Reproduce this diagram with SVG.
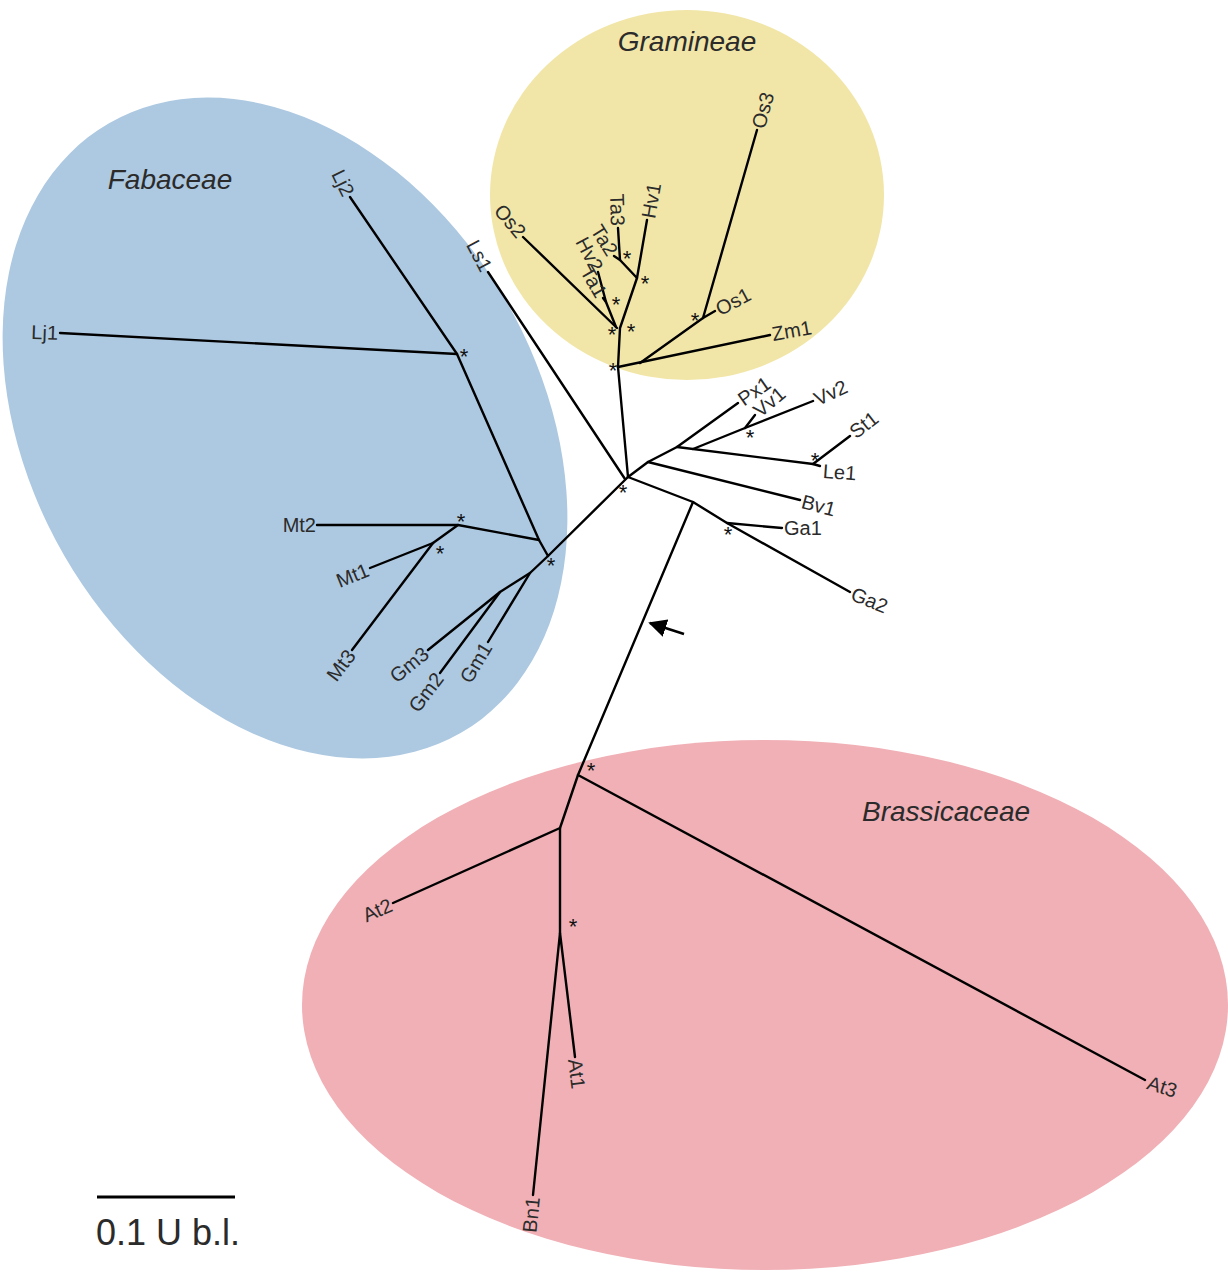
<svg xmlns="http://www.w3.org/2000/svg" width="1228" height="1273" viewBox="0 0 1228 1273">
<style>
.br{stroke:#000;stroke-width:2.4;fill:none;stroke-linecap:round;stroke-linejoin:round}
.lb{font-family:"Liberation Sans",Arial,sans-serif;font-size:20px;fill:#2b2b2b}
.st{font-family:"Liberation Sans",Arial,sans-serif;font-size:22px;fill:#111;text-anchor:middle}
.ti{font-family:"Liberation Sans",Arial,sans-serif;font-size:28px;font-style:italic;fill:#2b2b2b;text-anchor:middle}
.e{text-anchor:end}
</style>
<defs>
<marker id="ah" viewBox="0 0 10 10" refX="9" refY="5" markerWidth="7" markerHeight="7" orient="auto" markerUnits="strokeWidth"><path d="M0,0 L10,5 L0,10 z" fill="#000"/></marker>
</defs>
<rect width="1228" height="1273" fill="#fff"/>
<g id="clade-fabaceae">
<ellipse cx="285" cy="428" rx="255" ry="352" transform="rotate(-30 285 428)" fill="#adc9e1"/>
<text class="ti" x="170" y="189">Fabaceae</text>
</g>
<g id="clade-gramineae">
<ellipse cx="687" cy="195" rx="197" ry="185" fill="#f1e6a8"/>
<text class="ti" x="687" y="51">Gramineae</text>
</g>
<g id="clade-brassicaceae">
<ellipse cx="765" cy="1005" rx="463" ry="265" fill="#f0b0b6"/>
<text class="ti" x="946" y="821">Brassicaceae</text>
</g>
<g id="connectors">
<polyline class="br" points="60,333 457,354 539,540 548,556 628,477"/>
<line class="br" x1="350" y1="197" x2="457" y2="354"/>
<polyline class="br" points="317,525 458,525 539,540"/>
<line class="br" x1="458" y1="525" x2="433" y2="543"/>
<line class="br" x1="370" y1="568" x2="433" y2="543"/>
<line class="br" x1="352" y1="650" x2="433" y2="543"/>
<polyline class="br" points="548,556 530,573 500,592 428,650"/>
<line class="br" x1="530" y1="573" x2="488" y2="642"/>
<line class="br" x1="500" y1="592" x2="440" y2="673"/>
<line class="br" x1="488" y1="272" x2="625" y2="479"/>
<polyline class="br" points="628,477 618,367 620,328 637,278 647,220"/>
<line class="br" x1="523" y1="237" x2="617" y2="328"/>
<polyline class="br" points="598,272 606,302 616,327"/>
<line class="br" x1="603" y1="298" x2="606" y2="302"/>
<polyline class="br" points="637,278 620,260 614,256"/>
<line class="br" x1="618" y1="228" x2="620" y2="260"/>
<line class="br" x1="618" y1="367" x2="770" y2="335"/>
<polyline class="br" points="640,363 703,318 757,130"/>
<line class="br" x1="703" y1="318" x2="715" y2="311"/>
<polyline class="br" points="628,477 648,462 677,447 738,403"/>
<line class="br" x1="648" y1="462" x2="800" y2="500"/>
<polyline class="br" points="677,447 813,464 850,436"/>
<line class="br" x1="813" y1="464" x2="820" y2="466"/>
<polyline class="br" points="693,449 745,428 813,401"/>
<line class="br" x1="745" y1="428" x2="755" y2="415"/>
<polyline class="br" points="628,477 693,502 727,523 850,592"/>
<line class="br" x1="727" y1="523" x2="782" y2="528"/>
<polyline class="br" points="693,502 578,775 1145,1080"/>
<polyline class="br" points="578,775 560,828 393,903"/>
<polyline class="br" points="560,828 560,933 575,1057"/>
<line class="br" x1="560" y1="933" x2="533" y2="1195"/>
<line x1="684" y1="634" x2="650" y2="623" stroke="#000" stroke-width="2.6" marker-end="url(#ah)"/>
</g>
<g id="support">
<text class="st" x="464" y="364">*</text>
<text class="st" x="461" y="529">*</text>
<text class="st" x="440" y="561">*</text>
<text class="st" x="551" y="573">*</text>
<text class="st" x="623" y="500">*</text>
<text class="st" x="613" y="378">*</text>
<text class="st" x="612" y="342">*</text>
<text class="st" x="631" y="339">*</text>
<text class="st" x="616" y="312">*</text>
<text class="st" x="645" y="291">*</text>
<text class="st" x="627" y="266">*</text>
<text class="st" x="695" y="328">*</text>
<text class="st" x="750" y="445">*</text>
<text class="st" x="815" y="468">*</text>
<text class="st" x="728" y="542">*</text>
<text class="st" x="591" y="778">*</text>
<text class="st" x="573" y="934">*</text>
</g>
<g id="leaf-Lj1"><text class="lb e" transform="translate(58,333) rotate(2)" dy="0.35em">Lj1</text></g>
<g id="leaf-Lj2"><text class="lb e" transform="translate(349,195) rotate(64)" dy="0.35em">Lj2</text></g>
<g id="leaf-Mt2"><text class="lb e" transform="translate(316,525)" dy="0.35em">Mt2</text></g>
<g id="leaf-Mt1"><text class="lb e" transform="translate(368,569) rotate(-22)" dy="0.35em">Mt1</text></g>
<g id="leaf-Mt3"><text class="lb e" transform="translate(351,652) rotate(-53)" dy="0.35em">Mt3</text></g>
<g id="leaf-Gm3"><text class="lb e" transform="translate(426,651) rotate(-39)" dy="0.35em">Gm3</text></g>
<g id="leaf-Gm2"><text class="lb e" transform="translate(439,675) rotate(-53)" dy="0.35em">Gm2</text></g>
<g id="leaf-Gm1"><text class="lb e" transform="translate(487,644) rotate(-59)" dy="0.35em">Gm1</text></g>
<g id="leaf-Ls1"><text class="lb e" transform="translate(487,270) rotate(62)" dy="0.35em">Ls1</text></g>
<g id="leaf-Os2"><text class="lb e" transform="translate(522,235) rotate(50)" dy="0.35em">Os2</text></g>
<g id="leaf-Ta1"><text class="lb e" transform="translate(602,296) rotate(60)" dy="0.35em">Ta1</text></g>
<g id="leaf-Hv2"><text class="lb e" transform="translate(598,270) rotate(62)" dy="0.35em">Hv2</text></g>
<g id="leaf-Ta2"><text class="lb e" transform="translate(613,254) rotate(58)" dy="0.35em">Ta2</text></g>
<g id="leaf-Ta3"><text class="lb e" transform="translate(618,226) rotate(88)" dy="0.35em">Ta3</text></g>
<g id="leaf-Hv1"><text class="lb" transform="translate(648,218) rotate(-80)" dy="0.35em">Hv1</text></g>
<g id="leaf-Os3"><text class="lb" transform="translate(758,128) rotate(-75)" dy="0.35em">Os3</text></g>
<g id="leaf-Os1"><text class="lb" transform="translate(717,310) rotate(-28)" dy="0.35em">Os1</text></g>
<g id="leaf-Zm1"><text class="lb" transform="translate(772,334) rotate(-10)" dy="0.35em">Zm1</text></g>
<g id="leaf-Px1"><text class="lb" transform="translate(740,401) rotate(-35)" dy="0.35em">Px1</text></g>
<g id="leaf-Vv1"><text class="lb" transform="translate(756,413) rotate(-40)" dy="0.35em">Vv1</text></g>
<g id="leaf-Vv2"><text class="lb" transform="translate(815,400) rotate(-25)" dy="0.35em">Vv2</text></g>
<g id="leaf-St1"><text class="lb" transform="translate(852,434) rotate(-38)" dy="0.35em">St1</text></g>
<g id="leaf-Le1"><text class="lb" transform="translate(823,471) rotate(4)" dy="0.35em">Le1</text></g>
<g id="leaf-Bv1"><text class="lb" transform="translate(802,501) rotate(15)" dy="0.35em">Bv1</text></g>
<g id="leaf-Ga1"><text class="lb" transform="translate(784,528)" dy="0.35em">Ga1</text></g>
<g id="leaf-Ga2"><text class="lb" transform="translate(852,593) rotate(22)" dy="0.35em">Ga2</text></g>
<g id="leaf-At3"><text class="lb" transform="translate(1148,1082) rotate(18)" dy="0.35em">At3</text></g>
<g id="leaf-At2"><text class="lb e" transform="translate(391,904) rotate(-24)" dy="0.35em">At2</text></g>
<g id="leaf-At1"><text class="lb" transform="translate(575,1059) rotate(83)" dy="0.35em">At1</text></g>
<g id="leaf-Bn1"><text class="lb e" transform="translate(533,1197) rotate(-84)" dy="0.35em">Bn1</text></g>
<g id="scale-bar">
<line x1="97" y1="1197" x2="235" y2="1197" stroke="#000" stroke-width="3"/>
<text x="96" y="1245" font-family="Liberation Sans, Arial, sans-serif" font-size="36" fill="#2b2b2b">0.1 U b.l.</text>
</g>
</svg>
